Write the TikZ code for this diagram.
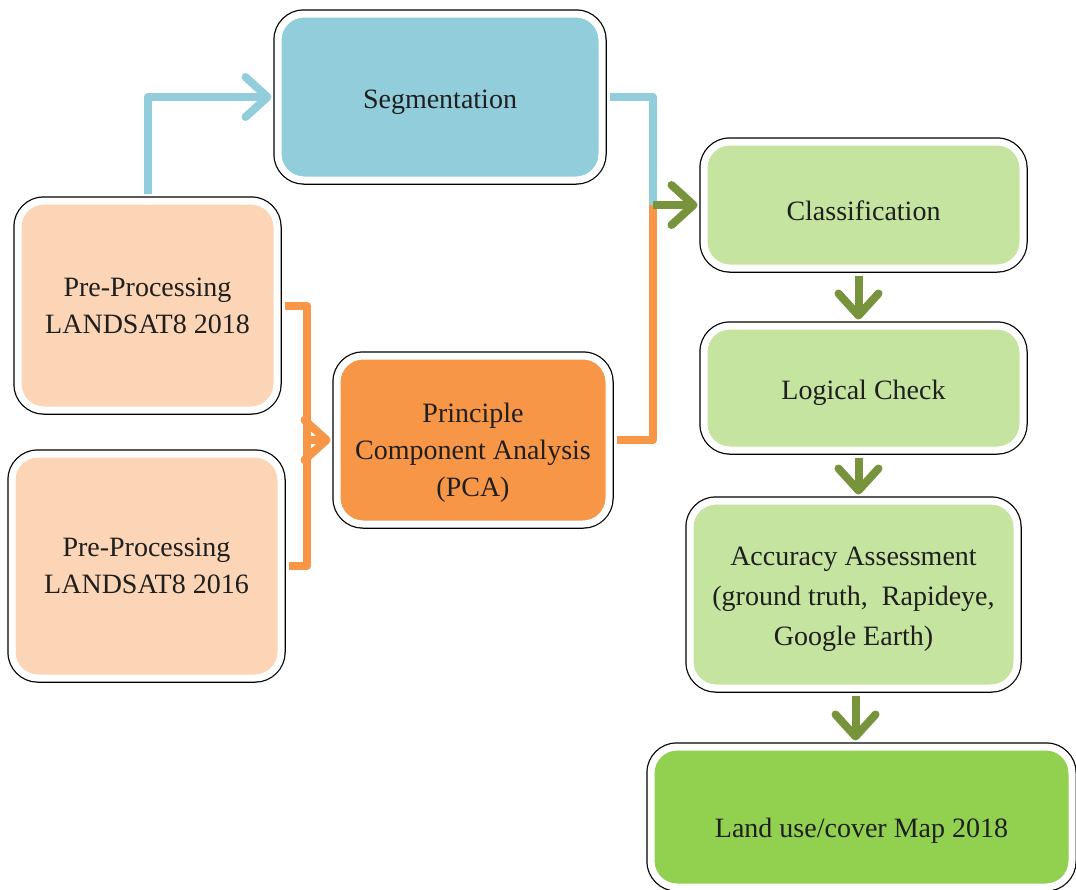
\documentclass[tikz,border=0pt]{standalone}
\usepackage{fontspec}
\setmainfont{Liberation Serif}
\usepackage{tikz}
\usetikzlibrary{arrows.meta,shadows}

\definecolor{segblue}{HTML}{92CDDC}
\definecolor{peach}{HTML}{FBD5B5}
\definecolor{pcaorange}{HTML}{F79646}
\definecolor{paleleaf}{RGB}{196,228,160}
\definecolor{mapgreen}{HTML}{92D050}
\definecolor{arrowgreen}{HTML}{77933C}

\begin{document}
\begin{tikzpicture}[x=1pt, y=-1pt,
    box/.style={rounded corners=26pt, draw=white, line width=7pt,
      preaction={draw=black, line width=9.5pt},
      drop shadow={shadow xshift=3pt, shadow yshift=-3pt, opacity=0.2},
      align=center, inner sep=0pt, text=black!88,
      font=\fontsize{28}{37}\selectfont},
    link/.style={line width=8pt, line join=round, shorten <=4pt},
    tip/.style={-{Straight Barb[length=22pt, width=40pt, round]}, shorten >=3pt}]
  \clip (0,0) rectangle (1076,889);

  % boxes
  \node[box, fill=segblue, minimum width=324pt, minimum height=166pt, text height=30pt] (seg) at (440,97) {Segmentation};
  \node[box, fill=peach, minimum width=259pt, minimum height=209pt] (pre18) at (147.5,305.5) {Pre-Processing\\LANDSAT8 2018};
  \node[box, fill=peach, minimum width=269pt, minimum height=224pt] (pre16) at (146.5,566) {Pre-Processing\\LANDSAT8 2016};
  \node[box, fill=pcaorange, minimum width=272pt, minimum height=168pt, text height=118pt] (pca) at (473,440) {Principle\\Component Analysis\\(PCA)};
  \node[box, fill=paleleaf, minimum width=319pt, minimum height=126pt, text height=32pt] (cls) at (863.5,205) {Classification};
  \node[box, fill=paleleaf, minimum width=319pt, minimum height=124pt, text height=30pt] (chk) at (863.5,388) {Logical Check};
  \node[box, fill=paleleaf, minimum width=327pt, minimum height=187pt, font=\fontsize{28}{40}\selectfont, text height=108pt] (acc) at (853.5,594.5) {Accuracy Assessment\\(ground truth,~~Rapideye,\\Google Earth)};
  \node[box, fill=mapgreen, minimum width=421pt, minimum height=140pt, text height=46pt] (map) at (861.5,817) {Land use/cover Map 2018};

  \coordinate (merge) at (307,440);
  \coordinate (join) at (653,205);

  % connectors
  \draw[link, segblue, tip] (pre18.north) |- (seg.west);
  \draw[link, segblue] (seg.east) -| (join);
  \draw[link, pcaorange] (pca.east) -| (join);
  \draw[link, pcaorange] (pre18.east) -| (merge);
  \draw[link, pcaorange] (pre16.east) -| (merge);
  \draw[link, pcaorange, tip, shorten <=0pt] (merge) -- (pca.west);
  \draw[link, arrowgreen, tip, shorten <=0pt] (join) -- (cls.west);
  \draw[link, arrowgreen, tip] ([xshift=-5pt]cls.south) -- ([xshift=-5pt]cls.south |- chk.north);
  \draw[link, arrowgreen, tip] ([xshift=-5pt]chk.south) -- ([xshift=-5pt]chk.south |- acc.north);
  \draw[link, arrowgreen, tip] ([xshift=2pt]acc.south) -- ([xshift=2pt]acc.south |- map.north);
\end{tikzpicture}
\end{document}
